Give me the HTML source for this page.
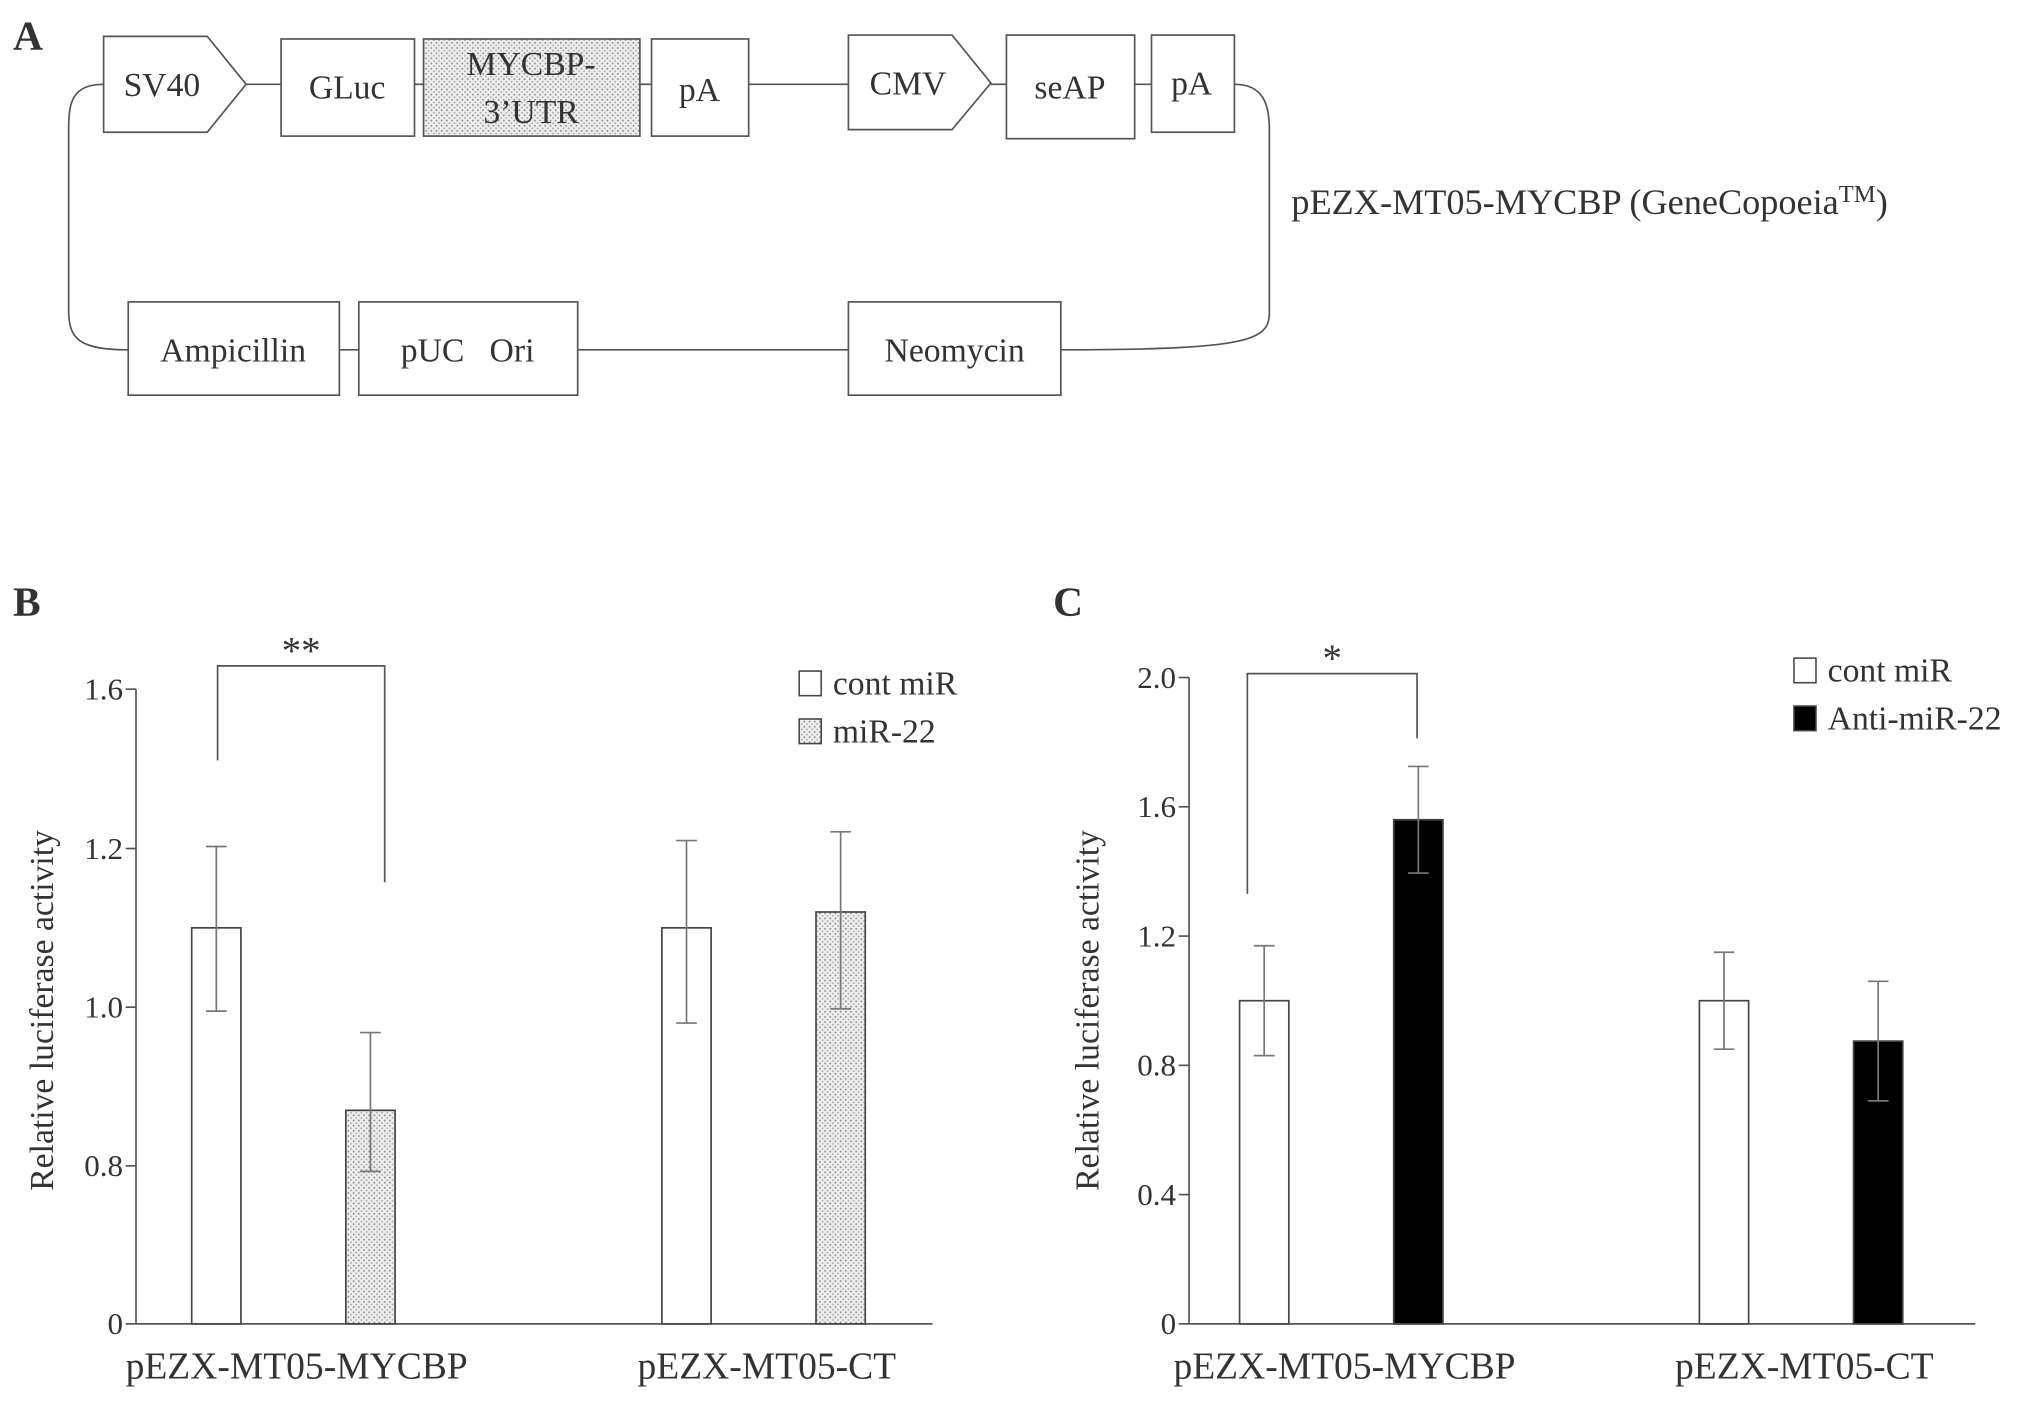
<!DOCTYPE html>
<html><head><meta charset="utf-8"><style>
html,body{margin:0;padding:0;background:#fff;}
svg{display:block;font-family:"Liberation Serif","DejaVu Serif",serif;}
text{font-family:"Liberation Serif","DejaVu Serif",serif;fill:#333;}
</style></head><body>
<svg id="fig" width="2031" height="1403" viewBox="0 0 1568 1083" font-family="Liberation Serif, DejaVu Serif, serif" xmlns="http://www.w3.org/2000/svg">
<defs>
<pattern id="dots" width="4" height="4" patternUnits="userSpaceOnUse"><rect width="4" height="4" fill="#eee"/><circle cx="1" cy="1" r="0.7" fill="#888"/><circle cx="3" cy="3" r="0.7" fill="#aaa"/></pattern>
</defs>
<g id="panelA" stroke="#555" stroke-width="1.3" fill="#fff">
<text x="10" y="38" font-size="32" font-weight="bold" stroke="none">A</text>
<path d="M80,65 C55,65 53,80 53,100 L53,240 C53,262 62,270 99,270" fill="none"/>
<path d="M953,65 C975,65 980,80 980,100 L980,240 C980,262 970,270 819,270" fill="none"/>
<line x1="190" y1="65" x2="217" y2="65"/><line x1="320" y1="65" x2="327" y2="65"/><line x1="494" y1="65" x2="503" y2="65"/>
<line x1="578" y1="65" x2="655" y2="65"/><line x1="765" y1="65" x2="777" y2="65"/><line x1="876" y1="65" x2="889" y2="65"/>
<line x1="262" y1="270" x2="277" y2="270"/><line x1="446" y1="270" x2="655" y2="270"/>
<path d="M80,28 L160,28 L190,65 L160,102 L80,102 Z"/>
<rect x="217" y="30" width="103" height="75"/>
<rect x="327" y="30" width="167" height="75" fill="url(#dots)"/>
<rect x="503" y="30" width="75" height="75"/>
<path d="M655,27 L735,27 L765,64 L735,100 L655,100 Z"/>
<rect x="777" y="27" width="99" height="80"/>
<rect x="889" y="27" width="64" height="75"/>
<rect x="99" y="233" width="163" height="72"/>
<rect x="277" y="233" width="169" height="72"/>
<rect x="655" y="233" width="164" height="72"/>
<g stroke="none" font-size="26" text-anchor="middle">
<text x="125" y="74">SV40</text><text x="268" y="76">GLuc</text>
<text x="410" y="58">MYCBP-</text><text x="410" y="95">3’UTR</text>
<text x="540" y="78">pA</text><text x="701" y="73">CMV</text><text x="826" y="76">seAP</text><text x="920" y="73">pA</text>
<text x="180" y="279">Ampicillin</text><text x="361" y="279">pUC&#160;&#160;&#160;Ori</text><text x="737" y="279">Neomycin</text>
</g>
<text x="997" y="165" font-size="28" stroke="none">pEZX-MT05-MYCBP (GeneCopoeia<tspan font-size="19" dy="-9">TM</tspan><tspan dy="9">)</tspan></text>
</g>
<g id="chartB"></g>
<g id="chartC"></g>
</svg>
<script>
// Panel B data
const catsB = ["pEZX-MT05-MYCBP", "pEZX-MT05-CT"];
const contB = [1.10, 1.10];
const contErrB = [0.105, 0.12];
const mirB = [0.87, 1.12];
const mirErrB = [0.098, 0.122];
const ticksB = [0, 0.8, 1.0, 1.2, 1.6];
const tickLabelsB = ["0", "0.8", "1.0", "1.2", "1.6"];
// Panel C data
const catsC = ["pEZX-MT05-MYCBP", "pEZX-MT05-CT"];
const contC = [1.0, 1.0];
const contErrC = [0.17, 0.15];
const antiC = [1.56, 0.875];
const antiErrC = [0.165, 0.185];
const ticksC = [0, 0.4, 0.8, 1.2, 1.6, 2.0];
const tickLabelsC = ["0", "0.4", "0.8", "1.2", "1.6", "2.0"];

const NS = "http://www.w3.org/2000/svg";
function mk(parent, tag, attrs, txt) {
  const e = document.createElementNS(NS, tag);
  for (const k in attrs) e.setAttribute(k, attrs[k]);
  if (txt !== undefined) e.textContent = txt;
  parent.appendChild(e);
  return e;
}
function yB(v) {
  if (v < 0.8) return 1022 - v / 0.8 * 122;
  if (v <= 1.2) return 900 - (v - 0.8) * 612.5;
  return 655 - (v - 1.2) / 0.4 * 123;
}
function yC(v) { return 1022 - v * 249.5; }

function drawChart(g, o) {
  const {ax, axEnd, yf, ticks, labels, cats, s1, e1, s2, e2, fill2, centers, label, br, star, leg, legName, ytitleX} = o;
  const t = mk(g, "text", {x: label[0], y: label[1], "font-size": 32, "font-weight": "bold"}, label[2]);
  
  
  const yl = mk(g, "line", {x1: ax, y1: yf(ticks[ticks.length - 1]), x2: ax, y2: 1022, stroke: "#555", "stroke-width": 1.3});
  
  
  const xl = mk(g, "line", {x1: ax, y1: 1022, x2: axEnd, y2: 1022, stroke: "#555", "stroke-width": 1.3});
  
  
  ticks.forEach((v, i) => {
    const y = yf(v);
    mk(g, "line", {x1: ax - 8, y1: y, x2: ax, y2: y, stroke: "#555", "stroke-width": 1.3});
    const tl = mk(g, "text", {x: ax - 10, y: y + 8, "font-size": 24, "text-anchor": "end"}, labels[i]);
    
    
  });
  const yt = mk(g, "text", {x: ytitleX, y: 788, "font-size": 26, "text-anchor": "middle", transform: `rotate(-90 ${ytitleX} 780)`}, "Relative luciferase activity");
  
  
  cats.forEach((c, i) => {
    const cx = centers[i];
    [[s1, e1, "#fff", cx - 62], [s2, e2, fill2, cx + 57]].forEach(([s, e, f, bx], j) => {
      const top = yf(s[i]);
      const r = mk(g, "rect", {x: bx - 19, y: top, width: 38, height: 1022 - top, fill: f, stroke: "#444", "stroke-width": 1.3});
      
      
      const eb = mk(g, "path", {d: `M${bx},${yf(s[i] - e[i])} V${yf(s[i] + e[i])} M${bx - 8},${yf(s[i] + e[i])} H${bx + 8} M${bx - 8},${yf(s[i] - e[i])} H${bx + 8}`, stroke: "#777", "stroke-width": 1.3, fill: "none"});
      
      
    });
    const cl = mk(g, "text", {x: cx, y: 1064, "font-size": 29, "text-anchor": "middle"}, c);
    
    
  });
  const b = mk(g, "path", {d: `M${br[0]},${br[1]} V${br[2]} H${br[3]} V${br[4]}`, stroke: "#555", "stroke-width": 1.3, fill: "none"});
  
  
  const st = mk(g, "text", {x: (br[0] + br[3]) / 2, y: br[2] - 2, "font-size": 30, "text-anchor": "middle"}, star);
  
  
  [["#fff", "cont miR", leg[1]], [fill2, legName, leg[1] + 37]].forEach(([f, n, y]) => {
    const sw = mk(g, "rect", {x: leg[0], y: y - 10, width: 17, height: 19, fill: f, stroke: "#444", "stroke-width": 1.2});
    
    
    const lt = mk(g, "text", {x: leg[0] + 26, y: y + 8, "font-size": 26}, n);
    
    
  });
}
const gB = document.getElementById("chartB");


drawChart(gB, {ax: 105, axEnd: 720, yf: yB, ticks: ticksB, labels: tickLabelsB, cats: catsB, s1: contB, e1: contErrB, s2: mirB, e2: mirErrB, fill2: "url(#dots)", centers: [229, 592], label: [10, 475, "B"], br: [168, 587, 514, 297, 681], star: "**", leg: [617, 528], legName: "miR-22", ytitleX: 33});
const gC = document.getElementById("chartC");


drawChart(gC, {ax: 918, axEnd: 1525, yf: yC, ticks: ticksC, labels: tickLabelsC, cats: catsC, s1: contC, e1: contErrC, s2: antiC, e2: antiErrC, fill2: "#000", centers: [1038, 1393], label: [813, 475, "C"], br: [963, 690, 520, 1094, 570], star: "*", leg: [1385, 518], legName: "Anti-miR-22", ytitleX: 840});
</script>
</body></html>
